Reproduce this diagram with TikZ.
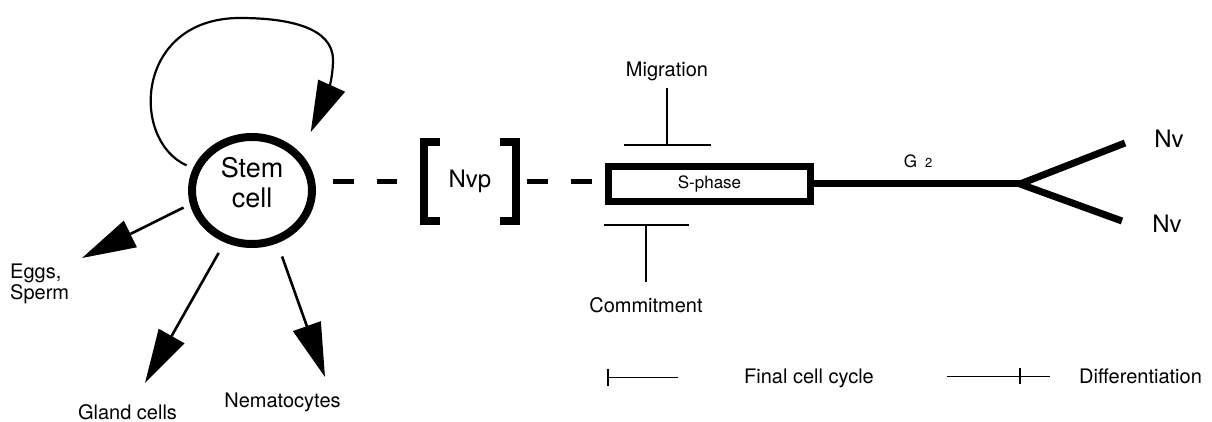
\documentclass[tikz,border=0pt]{standalone}
\usepackage{fontspec}
\setmainfont{TeX Gyre Heros}
\usetikzlibrary{arrows.meta,shapes.geometric}

\tikzset{
  txt/.style={inner sep=0pt, anchor=base, font=\fontsize{20}{20}\selectfont},
  big/.style={line width=2.6pt, -{Triangle[length=54pt,width=29pt]}},
  blocker/.style={line width=1.6pt, -{Bar[width=#1,line width=2pt]}},
  dashlink/.style={line width=4.5pt, dash pattern=on 21pt off 23pt},
  heavy/.style={line width=7pt},
}

\begin{document}
\begin{tikzpicture}[x=1pt,y=1pt]
\useasboundingbox (0,0) rectangle (1212,-422);

% stem cell and what comes out of it
\node[ellipse, draw, line width=8pt, minimum width=120pt, minimum height=107pt,
  inner sep=0pt, outer sep=11pt, align=center, text depth=17pt,
  font=\fontsize{27}{30}\selectfont] (stem) at (252,-190.5) {Stem\\cell};
\draw[line width=2.2pt, -{Triangle[length=51pt,width=29pt]}, shorten >=16pt]
  (stem.159) .. controls (130,-140) and (135,-18) .. (240,-18)
  .. controls (290,-18) and (333,-28) .. (333,-60)
  .. controls (333,-85) and (322.6,-105.7) .. (stem.40);

\node[inner sep=0pt, anchor=west, align=left, font=\fontsize{20}{16}\selectfont] (eggs) at (10,-284) {Eggs,\\Sperm};
\node[txt] (gland) at (127.5,-419) {Gland cells};
\node[txt] (nemato) at (282.5,-407) {Nematocytes};
\coordinate (eggtip) at (82,-258);
\coordinate (glandtip) at (145,-383);
\coordinate (nematip) at (325,-377);
\draw[big] (stem.194) -- (eggtip);
\draw[big, shorten <=5pt] (stem.242) -- (glandtip);
\draw[big, shorten <=7pt] (stem.295) -- (nematip);

% precursor in brackets
\node[minimum width=92pt, minimum height=79pt, inner sep=0pt, outer sep=0pt,
  font=\fontsize{24}{24}\selectfont] (nvp) at (470,-181.5) {Nvp};
\draw[line width=8pt] ([xshift=16pt]nvp.north west) -- (nvp.north west) -- (nvp.south west) -- ++(16,0);
\draw[line width=8pt] ([xshift=-16pt]nvp.north east) -- (nvp.north east) -- (nvp.south east) -- ++(-16,0);
\draw[dashlink, shorten <=10pt, shorten >=27.5pt] (stem.east |- nvp) -- (nvp.west);

% final cell cycle
\node[draw, heavy, minimum width=202pt, minimum height=35pt, inner sep=0pt,
  font=\fontsize{17}{17}\selectfont] (sbox) at (709.5,-184) {S-phase};
\draw[dashlink, shorten <=10.5pt, shorten >=12pt] (nvp.east) -- (nvp.east -| sbox.west);

\node[txt] (migr) at (667,-77) {Migration};
\draw[blocker=87pt, shorten <=6pt, shorten >=17pt] (migr.south) -- (migr.south |- sbox.north);
\node[txt] (commit) at (646,-312) {Commitment};
\draw[blocker=85pt, shorten <=15pt, shorten >=19pt] (commit.north) -- (commit.north |- sbox.south);

\coordinate (fork) at (1020,-184);
\coordinate (nvtopend) at (1125,-143);
\coordinate (nvbotend) at (1122,-221);
\draw[heavy] (sbox.east) -- (fork);
\draw[heavy] (nvtopend) -- (fork) -- (nvbotend);
\node[anchor=base, inner sep=0pt, font=\fontsize{17}{17}\selectfont] (gtwo) at (918,-168)
  {G\hspace{8pt}{\fontsize{13}{13}\selectfont 2}};
\node[anchor=base, inner sep=0pt, font=\fontsize{24}{24}\selectfont] (nvtop) at (1169,-148) {Nv};
\node[anchor=base, inner sep=0pt, font=\fontsize{24}{24}\selectfont] (nvbot) at (1167,-232) {Nv};

% key
\coordinate (fcc) at (607,-377);
\draw[line width=1pt, {Bar[width=17pt,line width=2.4pt]}-] (fcc) -- ++(71,0);
\node[txt] (fcctxt) at (809,-383) {Final cell cycle};
\coordinate (diff) at (947,-376);
\draw[line width=1pt] (diff) -- ++(103,0);
\draw[line width=2.4pt] ([xshift=73pt]diff) +(0,8) -- +(0,-8);
\node[txt] (difftxt) at (1140.5,-383) {Differentiation};
\end{tikzpicture}
\end{document}
